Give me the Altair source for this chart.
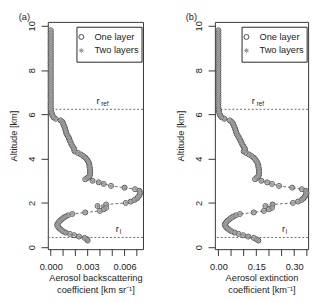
import altair as alt
import pandas as pd

# ---------------- data ----------------
altitude = [
    0.30, 0.36, 0.42, 0.48, 0.54, 0.60, 0.66, 0.72, 0.78, 0.84, 0.90, 0.96,
    1.02, 1.08, 1.14, 1.20, 1.26, 1.32, 1.38, 1.44, 1.50, 1.57, 1.64, 1.71,
    1.78, 1.86, 1.93, 2.00, 2.06, 2.13, 2.20, 2.27, 2.34, 2.41, 2.48, 2.55,
    2.62, 2.69, 2.77, 2.86, 2.93, 3.00, 3.07, 3.14, 3.21, 3.28, 3.35, 3.42,
    3.49, 3.56, 3.63, 3.70, 3.77, 3.84, 3.91, 3.98, 4.05, 4.12, 4.19, 4.26,
    4.33, 4.40, 4.47, 4.54, 4.61, 4.68, 4.75, 4.82, 4.89, 4.96, 5.03, 5.10,
    5.17, 5.24, 5.31, 5.38, 5.45, 5.52, 5.59, 5.66, 5.73, 5.80, 5.87, 5.94,
    6.01, 6.08, 6.15, 6.22, 6.30, 6.40, 6.50, 6.60, 6.70, 6.80, 6.90, 7.00,
    7.10, 7.20, 7.30, 7.40, 7.50, 7.60, 7.70, 7.80, 7.90, 8.00, 8.10, 8.20,
    8.30, 8.40, 8.50, 8.60, 8.70, 8.80, 8.90, 9.00, 9.10, 9.20, 9.30, 9.40,
    9.50, 9.60, 9.70, 9.80,
]

backscatter = [  # km-1 sr-1
    0.00300, 0.00295, 0.00275, 0.00230, 0.00190, 0.00155, 0.00120, 0.00100,
    0.00085, 0.00072, 0.00062, 0.00055, 0.00052, 0.00058, 0.00066, 0.00076,
    0.00088, 0.00102, 0.00118, 0.00140, 0.00175, 0.00280, 0.00400, 0.00430,
    0.00450, 0.00380, 0.00450, 0.00610, 0.00650, 0.00680, 0.00700, 0.00710,
    0.00720, 0.00725, 0.00725, 0.00720, 0.00685, 0.00600, 0.00490, 0.00430,
    0.00390, 0.00340, 0.00280, 0.00300, 0.00315, 0.00320, 0.00320, 0.00320,
    0.00318, 0.00318, 0.00315, 0.00315, 0.00312, 0.00308, 0.00300, 0.00292,
    0.00280, 0.00265, 0.00245, 0.00220, 0.00195, 0.00190, 0.00188, 0.00180,
    0.00172, 0.00165, 0.00160, 0.00155, 0.00150, 0.00145, 0.00138, 0.00130,
    0.00125, 0.00122, 0.00118, 0.00115, 0.00110, 0.00105, 0.00100, 0.00095,
    0.00080, 0.00040, 0.00022, 0.00015, 0.00010, 0.00006, 0.00004, 0.00002,
    0.00000, 0.00000, 0.00000, 0.00000, 0.00000, 0.00000, 0.00000, 0.00000,
    0.00000, 0.00000, 0.00000, 0.00000, 0.00000, 0.00000, 0.00000, 0.00000,
    0.00000, 0.00000, 0.00000, 0.00000, 0.00000, 0.00000, 0.00000, 0.00000,
    0.00000, 0.00000, 0.00000, 0.00000, 0.00000, 0.00000, 0.00000, 0.00000,
    0.00000, 0.00000, 0.00000, 0.00000,
]

extinction = [  # km-1
    0.158, 0.150, 0.140, 0.118, 0.098, 0.080, 0.064, 0.052,
    0.043, 0.036, 0.031, 0.027, 0.025, 0.028, 0.032, 0.037,
    0.043, 0.050, 0.058, 0.069, 0.085, 0.140, 0.180, 0.200,
    0.212, 0.186, 0.214, 0.295, 0.315, 0.328, 0.336, 0.341,
    0.345, 0.348, 0.348, 0.346, 0.330, 0.292, 0.240, 0.212,
    0.193, 0.170, 0.145, 0.152, 0.158, 0.161, 0.161, 0.161,
    0.160, 0.160, 0.158, 0.158, 0.156, 0.153, 0.149, 0.145,
    0.139, 0.131, 0.121, 0.109, 0.100, 0.105, 0.104, 0.100,
    0.096, 0.093, 0.090, 0.087, 0.084, 0.081, 0.077, 0.073,
    0.071, 0.069, 0.067, 0.065, 0.062, 0.060, 0.057, 0.053,
    0.045, 0.024, 0.013, 0.008, 0.005, 0.003, 0.002, 0.001,
    0.000, 0.000, 0.000, 0.000, 0.000, 0.000, 0.000, 0.000,
    0.000, 0.000, 0.000, 0.000, 0.000, 0.000, 0.000, 0.000,
    0.000, 0.000, 0.000, 0.000, 0.000, 0.000, 0.000, 0.000,
    0.000, 0.000, 0.000, 0.000, 0.000, 0.000, 0.000, 0.000,
    0.000, 0.000, 0.000, 0.000,
]

series_names = ["One layer", "Two layers"]
panel_labels = ["(a)", "(b)"]
ref_names = ["ref", "l"]
ref_levels = [6.23, 0.44]

y_ticks = [0, 2, 4, 6, 8, 10]
xa_ticks = [0.000, 0.001, 0.002, 0.003, 0.004, 0.005, 0.006, 0.007]
xa_labels = [0.000, 0.003, 0.006]
xb_ticks = [0.00, 0.05, 0.10, 0.15, 0.20, 0.25, 0.30, 0.35]
xb_labels = [0.00, 0.15, 0.30]

FONT = "Liberation Sans"
FS = 9.5
INK = "#222222"
AST = "M-1,0L1,0M0,-1L0,1M-0.72,-0.72L0.72,0.72M-0.72,0.72L0.72,-0.72"
SHAPES = ["circle", AST]
STROKES = ["#4a4a4a", "#9a9a9a"]
H = 234
Y_DOMAIN = [-0.09, 10.18]


def long_df(values):
    rows = []
    for s in series_names:
        for a, v in zip(altitude, values):
            rows.append({"alt": a, "value": v, "series": s})
    return pd.DataFrame(rows)


ref_df = pd.DataFrame({"level": ref_levels, "name": ref_names})
leg_df = pd.DataFrame({"series": series_names})


def legend_layers(width):
    right = width - 1
    left = right - 67
    box = alt.Chart(pd.DataFrame({"k": [0]})).mark_rect(
        fill="white", stroke=INK, strokeWidth=1
    ).encode(x=alt.value(left), x2=alt.value(right), y=alt.value(5.5), y2=alt.value(41.5))
    layers = [box]
    for i, name in enumerate(series_names):
        row = alt.Chart(leg_df).transform_filter(alt.datum.series == name)
        layers.append(row.mark_point(
            filled=False, strokeWidth=1, size=26, opacity=1, shape=SHAPES[i], stroke=STROKES[i]
        ).encode(x=alt.value(left + 4.5), y=alt.value(15.5 + 14 * i)))
        layers.append(row.mark_text(
            font=FONT, fontSize=FS, align="left", baseline="middle", color=INK
        ).encode(x=alt.value(left + 18), y=alt.value(15.5 + 14 * i), text="series:N"))
    return layers


def panel(values, xdom, xticks, xlabels, fmt, xtitle, plabel, rref_x, rl_x, width):
    df = long_df(values)
    yenc = alt.Y(
        "alt:Q",
        scale=alt.Scale(domain=Y_DOMAIN, nice=False, zero=False),
        axis=alt.Axis(
            values=y_ticks, title="Altitude [km]", labelAngle=270,
            labelAlign="center", labelBaseline="bottom", labelPadding=5,
            tickSize=7, tickColor="#333", domain=False, grid=False,
            labelFontSize=FS, titleFontSize=FS, titleFontWeight="normal",
            titlePadding=8, labelColor=INK, titleColor=INK,
        ),
    )
    xenc = alt.X(
        "value:Q",
        scale=alt.Scale(domain=xdom, nice=False, zero=False),
        axis=alt.Axis(
            values=xlabels, format=fmt, title=xtitle, ticks=False,
            domain=False, grid=False,
            labelFontSize=FS, titleFontSize=FS, titleFontWeight="normal",
            labelPadding=13, titlePadding=2, titleLineHeight=12,
            labelColor=INK, titleColor=INK, labelOverlap=False,
            labelFlush=False,
        ),
    )
    base = alt.Chart(df)
    line = base.transform_filter(alt.datum.series == "One layer").mark_line(
        strokeDash=[3, 2], color="#444", strokeWidth=0.8
    ).encode(x=xenc, y=yenc, order="alt:Q")

    tick_df = pd.DataFrame({"t": xticks})
    xtick = alt.Chart(tick_df).mark_rule(color="#333", strokeWidth=1).encode(
        x="t:Q", y=alt.value(H), y2=alt.value(H + 7)
    )

    pts = base.mark_point(filled=False, strokeWidth=1, size=26, opacity=1).encode(
        x="value:Q", y="alt:Q",
        shape=alt.Shape("series:N", scale=alt.Scale(domain=series_names, range=SHAPES), legend=None),
        stroke=alt.Stroke("series:N", scale=alt.Scale(domain=series_names, range=STROKES), legend=None),
    )
    rules = alt.Chart(ref_df).mark_rule(strokeDash=[2, 2], color="#666", strokeWidth=1).encode(
        y="level:Q"
    )
    rref = alt.Chart(ref_df).transform_filter(alt.datum.name == "ref")
    rl = alt.Chart(ref_df).transform_filter(alt.datum.name == "l")
    r1 = rref.mark_text(font=FONT, fontSize=FS, dy=-8, align="left", color=INK).encode(
        x=alt.value(rref_x), y="level:Q", text=alt.value("r"))
    r1s = rref.mark_text(font=FONT, fontSize=6.5, dy=-5, align="left", color=INK).encode(
        x=alt.value(rref_x + 5), y="level:Q", text="name:N")
    r2 = rl.mark_text(font=FONT, fontSize=FS, dy=-9, align="left", color=INK).encode(
        x=alt.value(rl_x), y="level:Q", text=alt.value("r"))
    r2s = rl.mark_text(font=FONT, fontSize=6.5, dy=-6, align="left", color=INK).encode(
        x=alt.value(rl_x + 4), y="level:Q", text="name:N")
    ptxt = alt.Chart(pd.DataFrame({"p": [plabel]})).mark_text(
        font=FONT, fontSize=FS, align="left", baseline="top", color=INK
    ).encode(x=alt.value(-30), y=alt.value(-9.5), text="p:N")

    return alt.layer(line, xtick, rules, pts, r1, r1s, r2, r2s, ptxt,
                     *legend_layers(width)).properties(width=width, height=H)


pa = panel(backscatter, [-0.00024, 0.0075], xa_ticks, xa_labels, ".3f",
           ["Aerosol backscattering", "coefficient [km sr\u207b\u00b9]"], panel_labels[0], 50, 70, 98)
pb = panel(extinction, [-0.014, 0.355], xb_ticks, xb_labels, ".2f",
           ["Aerosol extinction", "coefficient [km\u207b\u00b9]"], panel_labels[1], 38, 69, 96)

chart = alt.hconcat(pa, pb, spacing=31).resolve_scale(
    x="independent"
).properties(
    padding={"left": 0, "top": 0, "right": 0, "bottom": 0}
).configure(font=FONT).configure_view(stroke="#333", strokeWidth=1)

chart.save("out.html", embed_options={"renderer": "svg", "actions": False})
